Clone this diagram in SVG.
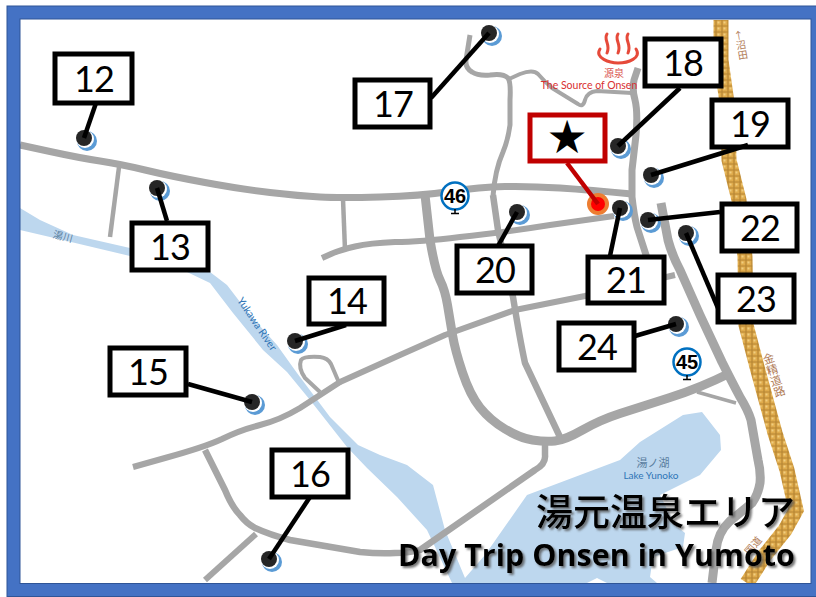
<svg xmlns="http://www.w3.org/2000/svg" width="816" height="597" viewBox="0 0 816 597">
<style>
.road{fill:none;stroke:#a6a6a6;stroke-linejoin:round;stroke-linecap:butt}
.box{fill:#fff;stroke:#000;stroke-width:5}
.num{font-family:Lato,"Noto Sans",sans-serif;font-size:36px;fill:#000;text-anchor:middle;letter-spacing:-1px}
.conn{stroke:#000;stroke-width:4.5;fill:none}
.dot{fill:#262626}
.halo{fill:#5b9bd5}
.gap{fill:#fff}
.blue{font-family:Lato,"Noto Sans CJK JP",sans-serif;fill:#2e75b6}
.brown{font-family:"Noto Sans CJK JP",sans-serif;fill:#b07a55}
.stop{fill:#fff;stroke:#0070c0;stroke-width:2.5}
.stopn{font-family:"Liberation Sans",sans-serif;font-weight:bold;font-size:20px;text-anchor:middle;fill:#000}
.title{fill:#000;filter:url(#sh)}
</style>
<defs>
<filter id="sh" x="-5%" y="-20%" width="110%" height="140%"><feDropShadow dx="2" dy="2" stdDeviation="1" flood-color="#555" flood-opacity="0.8"/></filter>
<pattern id="gold" width="6" height="6" patternUnits="userSpaceOnUse"><rect width="6" height="6" fill="#dfab4c"/><path d="M0 2H6M2 0V6" stroke="#9a6c22" stroke-width="1.200" opacity=".6"/><rect x="3.500" y="3.500" width="2" height="2" fill="#f0cd80"/></pattern>
</defs>
<rect width="816" height="597" fill="#fff"/>
<g id="map">
<path d="M20 208 40 220 73 235 130 248 210 272 227 285 250 315 277 345 297 373 330 417 358 445 380 455 407 465 433 485 445 530 465 578 485 555 527 495 620 460 640 442 683 415 702 412 720 435 721 450 700 475 660 495 675 525 685 533 683 547 653 557 650 577 657 583 607 583 597 578 587 583 452 583 427 530 397 497 367 468 347 447 310 400 287 372 263 350 233 313 210 283 187 272 130 256 50 237 20 230Z" fill="#bdd7ee"/>
<path d="M721 20 721 60 728 110 729 160 739 200 745 257 746 325 757 367 775 433 787 470 796 510 785 530 765 555 747 583" fill="none" stroke="url(#gold)" stroke-width="15"/>
<path class="road" stroke-width="7" d="M20 145 L50 151.500 Q80 158 100 161 Q120 164 145 170 Q170 176 205 182.500 Q240 189 270 192.500 Q300 196 320 197 Q340 198 380 197 Q420 196 450 191.500 Q480 187 505 186.500 Q530 186 560 188 Q590 190 632 194"/>
<path class="road" stroke-width="4.500" d="M119 167 110 237"/>
<path class="road" stroke-width="4.500" d="M343 199 345 250"/>
<path class="road" stroke-width="6" d="M322 258 L331 254 Q340 250 355 246.500 Q370 243 395 242 Q420 242 460 237 Q500 233 550 225 L614 216"/>
<path class="road" stroke-width="9" d="M425 195 L430 240 Q435 270 440 280 Q445 290 447.500 305 Q450 320 452.500 335 Q455 350 462.500 372.500 Q470 395 480 407.500 Q490 420 505 429 Q520 438 532.500 440 Q545 442 555 441 Q565 440 582.500 430 Q600 420 620 413.500 Q640 407 670 397.500 Q700 388 730 373"/>
<path class="road" stroke-width="5" d="M470 35 L466 60 Q465 68 472 72 Q478 76 490 75 Q503 73 508 78 Q511 82 510 100 L510 125 Q508 140 503 152 Q495 170 493 196"/>
<path class="road" stroke-width="4" d="M509 79 L520 74 Q533 69 538 74 Q545 82 552 88 L578 104 Q583 108 585 100 Q587 92 597 91 L632 93"/>
<path class="road" stroke-width="6.500" d="M493 195 L498 230 L513 297 Q520 340 525 363 L560 437"/>
<path class="road" stroke-width="7" d="M638 68 L634 80 Q632 90 635 100 Q638 112 636 135 L632 170 L632 197 Q634 215 637 227 L647 258"/>
<path class="road" stroke-width="9" d="M661 203 L668 240 Q672 255 680 270 L700 315 L722 362 Q732 382 740 397 Q748 410 751 420 L758 460 Q761 472 760 483 Q758 495 752 503 L730 521 Q718 532 716 550 L712 583"/>
<path class="road" stroke-width="6" d="M133 467 L165 458 Q205 447 222 439 Q240 430 260 425 Q280 420 300 408 L340 382 L400 355 L445 335 L515 310 L585 296 L675 275"/>
<path class="road" stroke-width="4" d="M320 392 305 378 Q298 368 301 360 Q304 356 320 357 Q328 358 331 364 L340 385"/>
<path class="road" stroke-width="6.500" d="M205 450 L225 490 Q232 507 240 515 Q246 523 255 528 Q270 535 290 540 L360 552 Q380 554 395 553 Q410 553 420 550 L535 470 Q546 464 545 455 L545 442"/>
<path class="road" stroke-width="6" d="M205 580 256 534"/>
<path class="road" stroke-width="3.500" d="M697 392 736 403"/>
<path d="M600 49 C594 58 610 63 618 63 C628 63 642 58 636 49" fill="none" stroke="#e64a3a" stroke-width="3" stroke-linecap="round"/>
<path d="M607 34C603 40 611 44 607 53M618 34C614 40 622 44 618 53M628 34C624 40 632 44 628 53" fill="none" stroke="#e64a3a" stroke-width="3" stroke-linecap="round"/>
<text x="614" y="77" font-family="Noto Sans CJK JP,sans-serif" font-size="10" fill="#d9534f" text-anchor="middle">源泉</text>
<text x="589" y="89" font-family="Lato,sans-serif" font-size="10.500" fill="#d83030" text-anchor="middle">The Source of Onsen</text>
<text x="653" y="467" font-size="11" text-anchor="middle" font-family="Noto Sans CJK JP,sans-serif" fill="#5a7ea0">湯ノ湖</text>
<text class="blue" x="651" y="479" font-size="10" text-anchor="middle">Lake Yunoko</text>
<text font-family="Noto Sans CJK JP,sans-serif" fill="#5a7ea0" font-size="10" text-anchor="middle" transform="translate(62 240) rotate(15)">湯川</text>
<text class="blue" font-size="10.500" text-anchor="middle" transform="translate(254 326) rotate(56)">Yukawa River</text>
<text class="brown" font-size="11.500" text-anchor="middle" transform="translate(774 375) rotate(-18)" style="writing-mode:vertical-rl">金精道路</text>
<text class="brown" font-size="10" text-anchor="middle" transform="translate(741 45) rotate(-10)" style="writing-mode:vertical-rl">←沼田</text>
<text class="brown" font-size="10" text-anchor="middle" transform="translate(756 548) rotate(-50)">国道</text>
<g id="stop46"><circle class="stop" cx="455" cy="196" r="13.500"/><text class="stopn" x="455" y="203">46</text><path d="M455 209V213M451 213.500H459" stroke="#000" stroke-width="1.500"/></g>
<g id="stop45"><circle class="stop" cx="687" cy="362" r="13.500"/><text class="stopn" x="687" y="369">45</text><path d="M687 375V379M683 379.500H691" stroke="#000" stroke-width="1.500"/></g>
</g>
<g id="n12"><circle class="halo" cx="87" cy="141" r="10"/><circle class="gap" cx="85" cy="139" r="9"/><circle class="dot" cx="84" cy="138" r="8"/><rect class="box" x="55" y="54" width="77" height="49"/><text class="num" x="94" y="92">12</text></g>
<g id="n13"><circle class="halo" cx="160" cy="191" r="10"/><circle class="gap" cx="158" cy="189" r="9"/><circle class="dot" cx="157" cy="188" r="8"/><rect class="box" x="132" y="223" width="76" height="47"/><text class="num" x="170" y="260">13</text></g>
<g id="n14"><circle class="halo" cx="298" cy="344" r="10"/><circle class="gap" cx="296" cy="342" r="9"/><circle class="dot" cx="295" cy="341" r="8"/><rect class="box" x="309" y="278" width="75" height="46"/><text class="num" x="347" y="314">14</text></g>
<g id="n15"><circle class="halo" cx="255" cy="405" r="10"/><circle class="gap" cx="253" cy="403" r="9"/><circle class="dot" cx="252" cy="402" r="8"/><rect class="box" x="110" y="348" width="76" height="47"/><text class="num" x="148" y="385">15</text></g>
<g id="n16"><circle class="halo" cx="272" cy="562" r="10"/><circle class="gap" cx="270" cy="560" r="9"/><circle class="dot" cx="269" cy="559" r="8"/><rect class="box" x="272" y="450" width="76" height="47"/><text class="num" x="310" y="487">16</text></g>
<g id="n17"><circle class="halo" cx="492" cy="36" r="10"/><circle class="gap" cx="490" cy="34" r="9"/><circle class="dot" cx="489" cy="33" r="8"/><rect class="box" x="355" y="80" width="75" height="47"/><text class="num" x="393" y="117">17</text></g>
<g id="n18"><circle class="halo" cx="621" cy="149" r="10"/><circle class="gap" cx="619" cy="147" r="9"/><circle class="dot" cx="618" cy="146" r="8"/><rect class="box" x="645" y="39" width="76" height="47"/><text class="num" x="683" y="76">18</text></g>
<g id="n19"><circle class="halo" cx="654" cy="178" r="10"/><circle class="gap" cx="652" cy="176" r="9"/><circle class="dot" cx="651" cy="175" r="8"/><rect class="box" x="712" y="100" width="76" height="47"/><text class="num" x="750" y="137">19</text></g>
<g id="star"><circle cx="598" cy="204" r="11" fill="#ed7d31"/><circle cx="598" cy="204" r="7" fill="#f00"/><rect class="box" x="530" y="115" width="75" height="46" style="stroke:#c00000"/><text class="num" x="567" y="153" style="font-family:'DejaVu Sans',sans-serif;font-size:46px;letter-spacing:0">★</text></g>
<g id="n20"><circle class="halo" cx="520" cy="215" r="10"/><circle class="gap" cx="518" cy="213" r="9"/><circle class="dot" cx="517" cy="212" r="8"/><rect class="box" x="457" y="246" width="75" height="47"/><text class="num" x="495" y="283">20</text></g>
<g id="n21"><circle class="halo" cx="623" cy="211" r="10"/><circle class="gap" cx="621" cy="209" r="9"/><circle class="dot" cx="620" cy="208" r="8"/><rect class="box" x="588" y="257" width="76" height="46"/><text class="num" x="626" y="293">21</text></g>
<g id="n22"><circle class="halo" cx="651" cy="223" r="10"/><circle class="gap" cx="649" cy="221" r="9"/><circle class="dot" cx="648" cy="220" r="8"/><rect class="box" x="722" y="204" width="75" height="47"/><text class="num" x="760" y="241">22</text></g>
<g id="n23"><circle class="halo" cx="689" cy="236" r="10"/><circle class="gap" cx="687" cy="234" r="9"/><circle class="dot" cx="686" cy="233" r="8"/><rect class="box" x="718" y="275" width="76" height="47"/><text class="num" x="756" y="312">23</text></g>
<g id="n24"><circle class="halo" cx="679" cy="327" r="10"/><circle class="gap" cx="677" cy="325" r="9"/><circle class="dot" cx="676" cy="324" r="8"/><rect class="box" x="559" y="323" width="75" height="47"/><text class="num" x="597" y="360">24</text></g>
<g id="connectors">
<path class="conn" d="M84 138 96 103"/>
<path class="conn" d="M157 188 167 221"/>
<path class="conn" d="M295 341 346 325"/>
<path class="conn" d="M188 384 252 402"/>
<path class="conn" d="M269 559 310 497"/>
<path class="conn" d="M489 33 431 98"/>
<path class="conn" d="M618 146 680 88"/>
<path class="conn" d="M651 175 748 145"/>
<path d="M598 204 567 163" stroke="#c00000" stroke-width="4.500" fill="none"/>
<path class="conn" d="M517 212 498 246"/>
<path class="conn" d="M620 208 610 256"/>
<path class="conn" d="M648 220 720 212"/>
<path class="conn" d="M686 233 718 308"/>
<path class="conn" d="M676 324 635 336"/>
</g>
<text class="title" x="795" y="526" text-anchor="end" font-family="Noto Sans CJK JP,sans-serif" font-size="37" font-weight="500">湯元温泉エリア</text>
<text class="title" x="795" y="566" text-anchor="end" font-family="Open Sans,sans-serif" font-size="30.500" font-weight="700">Day Trip Onsen in Yumoto</text>
<rect x="13.500" y="12.500" width="804" height="577.500" fill="none" stroke="#2f5597" stroke-width="14"/>
<rect x="13.500" y="12.500" width="804" height="577.500" fill="none" stroke="#4472c4" stroke-width="12"/>
</svg>
